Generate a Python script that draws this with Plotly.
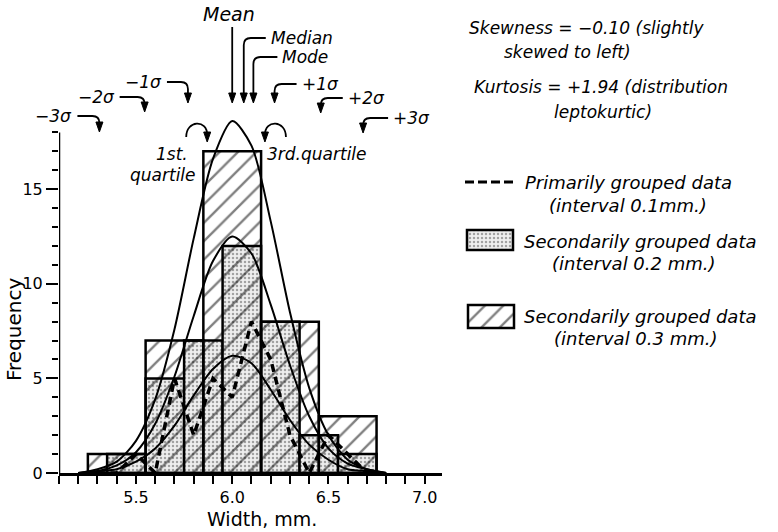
import plotly.graph_objects as go

# ---------------- data ----------------
# secondarily grouped data, interval 0.3 mm (hatched)
hatch_edges = [5.25, 5.55, 5.85, 6.15, 6.45, 6.75]
hatch_freq = [1, 7, 17, 8, 3]
# secondarily grouped data, interval 0.2 mm (stippled)
stipple_edges = [5.35, 5.55, 5.75, 5.95, 6.15, 6.35, 6.55, 6.75]
stipple_freq = [1, 5, 7, 12, 8, 2, 1]
# primarily grouped data, interval 0.1 mm (dashed polygon)
primary_mid = [5.3, 5.4, 5.5, 5.6, 5.7, 5.8, 5.9, 6.0, 6.1, 6.2, 6.3, 6.4, 6.5, 6.6, 6.7]
primary_freq = [0, 0, 1, 0, 5, 2, 5, 4, 8, 6, 2, 0, 2, 1, 0]
# fitted normal curves
curve_x = [5.2, 5.3, 5.4, 5.5, 5.6, 5.7, 5.8, 5.9, 6.0, 6.1, 6.2, 6.3, 6.4, 6.5, 6.6, 6.7, 6.8]
curve_03 = [0.0, 0.2, 0.6, 1.7, 3.9, 7.6, 12.4, 16.6, 18.6, 17.3, 13.3, 8.5, 4.5, 2.0, 0.7, 0.2, 0.0]
curve_02 = [0.0, 0.1, 0.4, 1.1, 2.6, 5.1, 8.3, 11.2, 12.5, 11.6, 8.9, 5.7, 3.0, 1.3, 0.5, 0.2, 0.0]
curve_01 = [0.0, 0.1, 0.2, 0.6, 1.3, 2.5, 4.1, 5.5, 6.2, 5.8, 4.4, 2.8, 1.5, 0.7, 0.2, 0.1, 0.0]

center_labels = ["Mean", "Median", "Mode"]
center_x = [6.00, 6.06, 6.11]
sigma_labels = ["\u22123\u03c3", "\u22122\u03c3", "\u22121\u03c3", "+1\u03c3", "+2\u03c3", "+3\u03c3"]
sigma_x = [5.31, 5.545, 5.77, 6.22, 6.46, 6.68]
quartile_labels = ["1st.", "3rd.quartile"]
quartile_x = [5.87, 6.17]

x_tick_vals = [5.5, 6.0, 6.5, 7.0]
x_tick_text = ["5.5", "6.0", "6.5", "7.0"]
y_tick_vals = [0, 5, 10, 15]
y_tick_text = ["0", "5", "10", "15"]

stats_lines = ["Skewness = \u22120.10 (slightly", "skewed to left)",
               "Kurtosis = +1.94 (distribution", "leptokurtic)"]
legend_names = ["Primarily grouped data", "(interval 0.1mm.)",
                "Secondarily grouped data", "(interval 0.2 mm.)",
                "Secondarily grouped data", "(interval 0.3 mm.)"]

# ---------------- geometry / style ----------------
W, H = 778, 532
MB = 59
PH = H - MB
X_RANGE = [5.1, 7.09]
XL, XR = 59, 442
Y_RANGE = [0, 25]
FONT = "DejaVu Sans"
BLACK = "black"
STIPPLE = dict(shape=".", fgcolor="#555555", bgcolor="#eeeeee", size=4, solidity=0.3)
HATCH = dict(shape="/", fgcolor=BLACK, bgcolor="rgba(0,0,0,0)", size=13, solidity=0.18)


def dpx(v):
    return XL + (v - X_RANGE[0]) / (X_RANGE[1] - X_RANGE[0]) * (XR - XL)


def fx(x):
    return x / W


def fy(y):
    return (PH - y) / PH


def centers(edges):
    return [(a + b) / 2 for a, b in zip(edges[:-1], edges[1:])]


def widths(edges):
    return [b - a for a, b in zip(edges[:-1], edges[1:])]


fig = go.Figure()

fig.add_trace(go.Bar(
    x=centers(stipple_edges), y=stipple_freq, width=widths(stipple_edges),
    marker=dict(color="#eeeeee", line=dict(color=BLACK, width=2.5), pattern=STIPPLE),
    hoverinfo="skip"))
fig.add_trace(go.Bar(
    x=centers(hatch_edges), y=hatch_freq, width=widths(hatch_edges),
    marker=dict(color="rgba(0,0,0,0)", line=dict(color=BLACK, width=2.5), pattern=HATCH),
    hoverinfo="skip"))
for cy in (curve_03, curve_02, curve_01):
    fig.add_trace(go.Scatter(x=curve_x, y=cy, mode="lines",
                             line=dict(color=BLACK, width=2, shape="spline", smoothing=0.8),
                             hoverinfo="skip"))
fig.add_trace(go.Scatter(x=primary_mid, y=primary_freq, mode="lines",
                         line=dict(color=BLACK, width=3.5, dash="8px,5px"), hoverinfo="skip"))

# legend swatches on a page-sized helper subplot (pixel units)
fig.add_trace(go.Scatter(x=[465, 515], y=[182, 182], mode="lines", xaxis="x2", yaxis="y2",
                         line=dict(color=BLACK, width=3, dash="9px,4px"), hoverinfo="skip"))
fig.add_trace(go.Bar(x=[490], y=[20], base=[230], width=[46], xaxis="x2", yaxis="y2",
                     marker=dict(color="#eeeeee", line=dict(color=BLACK, width=2.5), pattern=STIPPLE),
                     hoverinfo="skip"))
fig.add_trace(go.Bar(x=[491], y=[23], base=[305], width=[46], xaxis="x2", yaxis="y2",
                     marker=dict(color="rgba(0,0,0,0)", line=dict(color=BLACK, width=2.5), pattern=HATCH),
                     hoverinfo="skip"))

shapes = []
annotations = []
# y axis line (only up to 18)
shapes.append(dict(type="line", xref="x", yref="y", x0=X_RANGE[0], x1=X_RANGE[0], y0=0, y1=18,
                   line=dict(color=BLACK, width=2.5)))


def path_shape(pts_cmd):
    return dict(type="path", xref="paper", yref="paper", path=pts_cmd,
                line=dict(color=BLACK, width=1.8))


def head(tx, ty):
    p = "M{:.5f},{:.5f} L{:.5f},{:.5f} L{:.5f},{:.5f} Z".format(
        fx(tx - 3.5), fy(ty - 10), fx(tx), fy(ty), fx(tx + 3.5), fy(ty - 10))
    return dict(type="path", xref="paper", yref="paper", path=p,
                fillcolor=BLACK, line=dict(color=BLACK, width=1))


def text(x, y, s, size=17, xanchor="center", italic=True):
    annotations.append(dict(xref="paper", yref="paper", x=fx(x), y=fy(y), text=("<i>%s</i>" % s) if italic else s,
                            showarrow=False, xanchor=xanchor, yanchor="middle",
                            font=dict(family=FONT, size=size, color=BLACK)))


# Mean: straight arrow
tx = dpx(center_x[0])
shapes.append(path_shape("M{:.5f},{:.5f} L{:.5f},{:.5f}".format(fx(tx), fy(27), fx(tx), fy(100))))
shapes.append(head(tx, 103))
text(tx - 3, 14, center_labels[0], size=19)

# hooked arrows: (label, x, tip_y, line_y, side, reach)
hooks = [
    (center_labels[1], center_x[1], 103, 38, 1, 22),
    (center_labels[2], center_x[2], 103, 57, 1, 24),
    (sigma_labels[0], sigma_x[0], 132, 116, -1, 22),
    (sigma_labels[1], sigma_x[1], 112, 97, -1, 25),
    (sigma_labels[2], sigma_x[2], 103, 82, -1, 21),
    (sigma_labels[3], sigma_x[3], 103, 84, 1, 22),
    (sigma_labels[4], sigma_x[4], 113, 98, 1, 22),
    (sigma_labels[5], sigma_x[5], 133, 118, 1, 25),
]
r = 7
for lab, xv, tip_y, ly, side, reach in hooks:
    tx = dpx(xv)
    p = "M{:.5f},{:.5f} L{:.5f},{:.5f} Q{:.5f},{:.5f} {:.5f},{:.5f} L{:.5f},{:.5f}".format(
        fx(tx + side * reach), fy(ly), fx(tx + side * r), fy(ly),
        fx(tx), fy(ly), fx(tx), fy(ly + r), fx(tx), fy(tip_y - 3))
    shapes.append(path_shape(p))
    shapes.append(head(tx, tip_y))
    text(tx + side * (reach + 3), ly, lab, size=17, xanchor="left" if side > 0 else "right")

# quartile curved arrows
q1 = dpx(quartile_x[0])
shapes.append(path_shape("M{:.5f},{:.5f} C{:.5f},{:.5f} {:.5f},{:.5f} {:.5f},{:.5f}".format(
    fx(q1 - 21), fy(137), fx(q1 - 21), fy(120), fx(q1), fy(119), fx(q1), fy(135))))
shapes.append(head(q1, 142))
text(q1 - 17, 154, quartile_labels[0], size=17, xanchor="right")
text(q1 - 9, 175, "quartile", size=17, xanchor="right")
q3 = dpx(quartile_x[1])
shapes.append(path_shape("M{:.5f},{:.5f} C{:.5f},{:.5f} {:.5f},{:.5f} {:.5f},{:.5f}".format(
    fx(q3 + 21), fy(137), fx(q3 + 21), fy(120), fx(q3), fy(119), fx(q3), fy(135))))
shapes.append(head(q3, 142))
text(q3, 154, quartile_labels[1], size=17, xanchor="left")

# statistics text
text(467, 28, stats_lines[0], xanchor="left")
text(502, 52, stats_lines[1], xanchor="left")
text(472, 87, stats_lines[2], xanchor="left")
text(552, 112, stats_lines[3], xanchor="left")

# legend text
text(523, 182, legend_names[0], size=18, xanchor="left")
text(547, 205, legend_names[1], size=18, xanchor="left")
text(522, 241, legend_names[2], size=18, xanchor="left")
text(550, 263, legend_names[3], size=18, xanchor="left")
text(522, 316, legend_names[4], size=18, xanchor="left")
text(552, 338, legend_names[5], size=18, xanchor="left")

# axis titles
text(14, 330, "Frequency", size=20, italic=False)
annotations[-1]["textangle"] = -90
text(262, 519, "Width, mm.", size=19, italic=False)

x_minor = [round(5.1 + 0.1 * i, 1) for i in range(20)]
x_minor = [v for v in x_minor if v not in x_tick_vals]
y_minor = [v for v in range(1, 19) if v % 5]

fig.update_layout(
    width=W, height=H,
    margin=dict(l=0, r=0, t=0, b=MB),
    paper_bgcolor="white", plot_bgcolor="rgba(0,0,0,0)",
    showlegend=False, barmode="overlay",
    font=dict(family=FONT, color=BLACK),
    xaxis=dict(domain=[XL / W, XR / W], range=X_RANGE, showgrid=False, zeroline=False,
               showline=True, linecolor=BLACK, linewidth=2.5,
               tickmode="array", tickvals=x_tick_vals, ticktext=x_tick_text,
               ticks="outside", ticklen=8, tickwidth=2, tickcolor=BLACK,
               tickfont=dict(family=FONT, size=16, color=BLACK),
               minor=dict(tickmode="array", tickvals=x_minor, ticks="outside", ticklen=8,
                          tickwidth=2, tickcolor=BLACK, showgrid=False)),
    yaxis=dict(domain=[0, 1], range=Y_RANGE, showgrid=False, zeroline=False, showline=False,
               tickmode="array", tickvals=y_tick_vals, ticktext=y_tick_text,
               ticks="outside", ticklen=12, tickwidth=2, tickcolor=BLACK,
               tickfont=dict(family=FONT, size=16, color=BLACK),
               minor=dict(tickmode="array", tickvals=y_minor, ticks="outside", ticklen=6,
                          tickwidth=2, tickcolor=BLACK, showgrid=False)),
    xaxis2=dict(domain=[0, 1], range=[0, W], visible=False, anchor="y2"),
    yaxis2=dict(domain=[0, 1], range=[PH, 0], visible=False, anchor="x2"),
    shapes=shapes, annotations=annotations,
)

fig.write_html("out.html")
